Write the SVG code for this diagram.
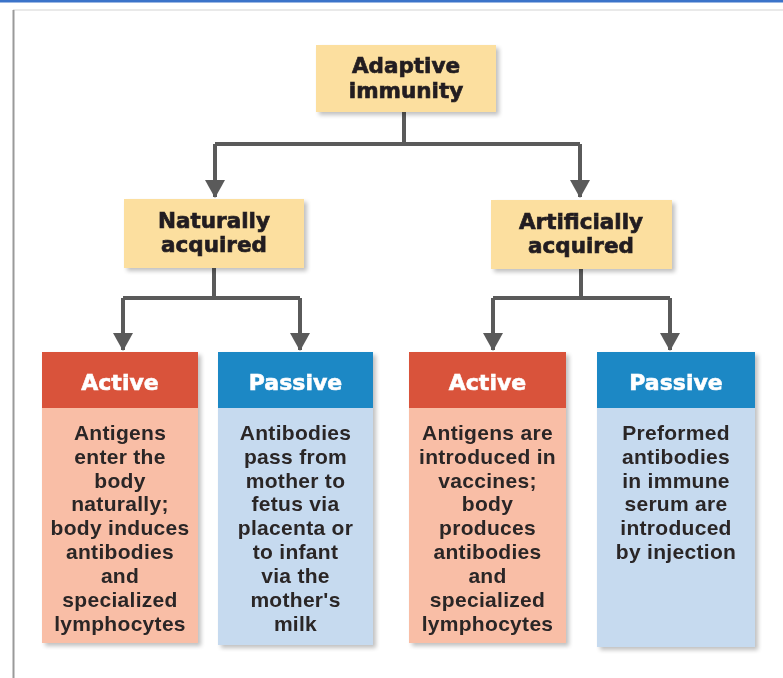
<svg xmlns="http://www.w3.org/2000/svg" width="783" height="678" viewBox="0 0 783 678">
  <style>
    .title { font-family: "DejaVu Sans", "Liberation Sans", sans-serif; font-weight: 700; font-size: 21.5px; fill: #231f20; stroke: #231f20; stroke-width: 0.7px; text-anchor: middle; }
    .head { font-family: "DejaVu Sans", "Liberation Sans", sans-serif; font-weight: 700; font-size: 22px; fill: #ffffff; stroke: #ffffff; stroke-width: 0.6px; text-anchor: middle; }
    .body { font-family: "Liberation Sans", Arial, sans-serif; font-weight: 700; font-size: 21px; letter-spacing: 0.3px; fill: #2a2526; text-anchor: middle; }
    .cat { fill: #fcdf9f; }
    .red { fill: #d9533b; }
    .salmon { fill: #f9bea6; }
    .blue { fill: #1f88c5; }
    .pale { fill: #c6daef; }
    .wire { fill: none; stroke: #5a5a5a; stroke-width: 4; stroke-linejoin: miter; }
  </style>
  <defs>
    <marker id="arrow" markerUnits="userSpaceOnUse" markerWidth="22" markerHeight="20" refX="11" refY="17" orient="0" viewBox="0 0 22 20">
      <polygon points="1,0 21,0 11,18" fill="#5a5a5a"/>
    </marker>
    <filter id="shadow" x="-10%" y="-10%" width="125%" height="125%">
      <feGaussianBlur in="SourceAlpha" stdDeviation="2"/>
      <feOffset dx="3" dy="3"/>
      <feComponentTransfer><feFuncA type="linear" slope="0.25"/></feComponentTransfer>
      <feMerge><feMergeNode/><feMergeNode in="SourceGraphic"/></feMerge>
    </filter>
  </defs>

  <!-- page frame -->
  <rect x="0" y="0" width="783" height="678" fill="#ffffff"/>
  <rect x="0" y="0" width="783" height="2.5" fill="#3b73c9"/>
  <line x1="13" y1="10" x2="783" y2="10" stroke="#e2e2e2" stroke-width="1.5"/>
  <line x1="13.5" y1="10" x2="13.5" y2="678" stroke="#9a9a9a" stroke-width="2"/>

  <!-- connectors -->
  <g id="connectors">
    <path class="wire" d="M404,112 V144"/>
    <path class="wire" d="M215,144 H580" />
    <path class="wire" d="M215,144 V197" marker-end="url(#arrow)"/>
    <path class="wire" d="M580,144 V197" marker-end="url(#arrow)"/>
    <path class="wire" d="M214,268 V298 M123,298 H300"/>
    <path class="wire" d="M123,298 V350" marker-end="url(#arrow)"/>
    <path class="wire" d="M300,298 V350" marker-end="url(#arrow)"/>
    <path class="wire" d="M581,269 V298 M493,298 H670"/>
    <path class="wire" d="M493,298 V350" marker-end="url(#arrow)"/>
    <path class="wire" d="M670,298 V350" marker-end="url(#arrow)"/>
  </g>

  <!-- root -->
  <g id="adaptive-immunity" filter="url(#shadow)">
    <rect class="cat" x="316" y="45" width="180" height="67"/>
    <text class="title" x="406" y="73">Adaptive</text>
    <text class="title" x="406" y="98">immunity</text>
  </g>

  <!-- second level -->
  <g id="naturally-acquired" filter="url(#shadow)">
    <rect class="cat" x="124" y="199" width="180" height="69"/>
    <text class="title" x="214" y="228">Naturally</text>
    <text class="title" x="214" y="252">acquired</text>
  </g>
  <g id="artificially-acquired" filter="url(#shadow)">
    <rect class="cat" x="491" y="200" width="181" height="69"/>
    <text class="title" x="581" y="229">Artificially</text>
    <text class="title" x="581" y="253">acquired</text>
  </g>

  <!-- leaves -->
  <g id="natural-active" filter="url(#shadow)">
    <rect class="salmon" x="42" y="352" width="156" height="291"/>
    <rect class="red" x="42" y="352" width="156" height="56"/>
    <text class="head" x="120" y="390">Active</text>
    <text class="body" x="120" y="440">Antigens</text>
    <text class="body" x="120" y="464">enter the</text>
    <text class="body" x="120" y="488">body</text>
    <text class="body" x="120" y="511">naturally;</text>
    <text class="body" x="120" y="535">body induces</text>
    <text class="body" x="120" y="559">antibodies</text>
    <text class="body" x="120" y="583">and</text>
    <text class="body" x="120" y="607">specialized</text>
    <text class="body" x="120" y="631">lymphocytes</text>
  </g>
  <g id="natural-passive" filter="url(#shadow)">
    <rect class="pale" x="218" y="352" width="155" height="293"/>
    <rect class="blue" x="218" y="352" width="155" height="56"/>
    <text class="head" x="295.5" y="390">Passive</text>
    <text class="body" x="295.5" y="440">Antibodies</text>
    <text class="body" x="295.5" y="464">pass from</text>
    <text class="body" x="295.5" y="488">mother to</text>
    <text class="body" x="295.5" y="511">fetus via</text>
    <text class="body" x="295.5" y="535">placenta or</text>
    <text class="body" x="295.5" y="559">to infant</text>
    <text class="body" x="295.5" y="583">via the</text>
    <text class="body" x="295.5" y="607">mother's</text>
    <text class="body" x="295.5" y="631">milk</text>
  </g>
  <g id="artificial-active" filter="url(#shadow)">
    <rect class="salmon" x="409" y="352" width="157" height="291"/>
    <rect class="red" x="409" y="352" width="157" height="56"/>
    <text class="head" x="487.5" y="390">Active</text>
    <text class="body" x="487.5" y="440">Antigens are</text>
    <text class="body" x="487.5" y="464">introduced in</text>
    <text class="body" x="487.5" y="488">vaccines;</text>
    <text class="body" x="487.5" y="511">body</text>
    <text class="body" x="487.5" y="535">produces</text>
    <text class="body" x="487.5" y="559">antibodies</text>
    <text class="body" x="487.5" y="583">and</text>
    <text class="body" x="487.5" y="607">specialized</text>
    <text class="body" x="487.5" y="631">lymphocytes</text>
  </g>
  <g id="artificial-passive" filter="url(#shadow)">
    <rect class="pale" x="597" y="352" width="158" height="295"/>
    <rect class="blue" x="597" y="352" width="158" height="56"/>
    <text class="head" x="676" y="390">Passive</text>
    <text class="body" x="676" y="440">Preformed</text>
    <text class="body" x="676" y="464">antibodies</text>
    <text class="body" x="676" y="488">in immune</text>
    <text class="body" x="676" y="511">serum are</text>
    <text class="body" x="676" y="535">introduced</text>
    <text class="body" x="676" y="559">by injection</text>
  </g>
</svg>
